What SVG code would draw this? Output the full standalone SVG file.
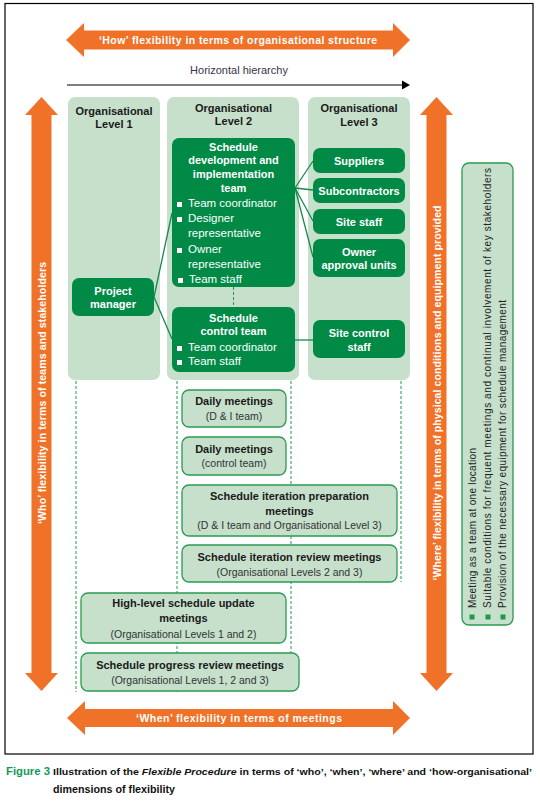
<svg xmlns="http://www.w3.org/2000/svg" width="540" height="803" viewBox="0 0 540 803">
<style>
.col{fill:#c6e0cc}
.dk{fill:#008a45}
.mt{fill:#c6e0cc;stroke:#2a9a50;stroke-width:1.3}
.orange{fill:#f07228}
.t{font-family:"Liberation Sans",Arial,sans-serif}
.ttl{font-family:"Liberation Sans",Arial,sans-serif;font-weight:bold;font-size:11px;fill:#1a1a1a;text-anchor:middle}
.wb{font-family:"Liberation Sans",Arial,sans-serif;font-weight:bold;font-size:11px;fill:#fff;text-anchor:middle}
.wr{font-family:"Liberation Sans",Arial,sans-serif;font-size:11.5px;fill:#fff}
.mb{font-family:"Liberation Sans",Arial,sans-serif;font-weight:bold;font-size:11px;fill:#1a1a1a;text-anchor:middle}
.ms{font-family:"Liberation Sans",Arial,sans-serif;font-size:10.5px;fill:#333;text-anchor:middle}
.ob{font-family:"Liberation Sans",Arial,sans-serif;font-weight:bold;font-size:10.5px;fill:#fff;text-anchor:middle}
.dash{stroke:#1e9a4a;stroke-width:1;stroke-dasharray:3 2;fill:none}
.con{stroke:#16884a;stroke-width:1.3;fill:none}
.wl{font-family:"Liberation Sans",Arial,sans-serif;font-size:10px;fill:#222}
</style>
<rect x="0" y="0" width="540" height="803" fill="#fff"/>
<rect x="5" y="3.5" width="528" height="750.5" fill="none" stroke="#000" stroke-width="1.2"/>

<!-- orange arrows -->
<g id="how-arrow">
<polygon class="orange" points="66,40 84,23 84,30.5 393,30.5 393,23 410,40 393,57 393,49.5 84,49.5 84,57"/>
<text class="ob" x="238" y="44" textLength="278">‘How’ flexibility in terms of organisational structure</text>
</g>
<g id="when-arrow">
<polygon class="orange" points="67,718 85,701 85,709 393,709 393,701 410,718 393,735 393,727 85,727 85,735"/>
<text class="ob" x="239" y="722" textLength="206">‘When’ flexibility in terms of meetings</text>
</g>
<g id="who-arrow">
<polygon class="orange" points="41.5,97 58,115 51.5,115 51.5,673 58,673 41.5,691 25,673 31.5,673 31.5,115 25,115"/>
<text class="ob" transform="translate(45.5,393) rotate(-90)" x="0" y="0" textLength="262">‘Who’ flexibility in terms of teams and stakeholders</text>
</g>
<g id="where-arrow">
<polygon class="orange" points="436.5,97 453,115 446.5,115 446.5,673 453,673 436.5,691 420,673 426.5,673 426.5,115 420,115"/>
<text class="ob" transform="translate(440.5,393) rotate(-90)" x="0" y="0" textLength="375">‘Where’ flexibility in terms of physical conditions and equipment provided</text>
</g>

<!-- horizontal hierarchy -->
<g id="hierarchy">
<text class="t" x="239" y="74" font-size="11" fill="#3a3348" text-anchor="middle">Horizontal hierarchy</text>
<line x1="67" y1="85" x2="403" y2="85" stroke="#000" stroke-width="1.2"/>
<polygon points="402,80.5 410,85 402,89.5" fill="#000"/>
</g>

<!-- columns -->
<g id="level1">
<rect class="col" x="68" y="97" width="92" height="283" rx="7"/>
<text class="ttl" x="114" y="115">Organisational</text>
<text class="ttl" x="114" y="128">Level 1</text>
</g>
<g id="level2">
<rect class="col" x="167" y="97" width="132" height="283" rx="7"/>
<text class="ttl" x="233.5" y="112">Organisational</text>
<text class="ttl" x="233.5" y="125">Level 2</text>
</g>
<g id="level3">
<rect class="col" x="308" y="97" width="102" height="283" rx="7"/>
<text class="ttl" x="359" y="112">Organisational</text>
<text class="ttl" x="359" y="126">Level 3</text>
</g>

<!-- connectors -->
<g id="connectors">
<line class="dash" x1="76" y1="381" x2="76" y2="692"/>
<line class="dash" x1="177" y1="381" x2="177" y2="692"/>
<line class="dash" x1="291" y1="381" x2="291" y2="653"/>
<line class="dash" x1="401" y1="381" x2="401" y2="582"/>
<line class="dash" x1="233.5" y1="287" x2="233.5" y2="307"/>
<line class="con" x1="154" y1="297" x2="172" y2="213"/>
<line class="con" x1="154" y1="297" x2="172" y2="339"/>
<line class="con" x1="295" y1="188" x2="313" y2="161"/>
<line class="con" x1="295" y1="188" x2="313" y2="190"/>
<line class="con" x1="295" y1="188" x2="313" y2="221"/>
<line class="con" x1="295" y1="188" x2="313" y2="257"/>
<line class="con" x1="295" y1="340" x2="313" y2="340"/>
</g>

<!-- dark green nodes -->
<g id="di-team">
<rect class="dk" x="172" y="138" width="123" height="149" rx="7"/>
<text class="wb" x="233.5" y="151">Schedule</text>
<text class="wb" x="233.5" y="164">development and</text>
<text class="wb" x="233.5" y="178">implementation</text>
<text class="wb" x="233.5" y="192">team</text>
<rect x="177" y="202" width="5" height="5" fill="#fff"/>
<text class="wr" x="188" y="207">Team coordinator</text>
<rect x="177" y="217" width="5" height="5" fill="#fff"/>
<text class="wr" x="188" y="222">Designer</text>
<text class="wr" x="188" y="237">representative</text>
<rect x="177" y="248" width="5" height="5" fill="#fff"/>
<text class="wr" x="188" y="253">Owner</text>
<text class="wr" x="188" y="268">representative</text>
<rect x="178" y="278" width="5" height="5" fill="#fff"/>
<text class="wr" x="189" y="283">Team staff</text>
</g>
<g id="project-manager">
<rect class="dk" x="72" y="278" width="82" height="38" rx="7"/>
<text class="wb" x="113" y="295">Project</text>
<text class="wb" x="113" y="308">manager</text>
</g>
<g id="control-team">
<rect class="dk" x="172" y="307" width="123" height="65" rx="7"/>
<text class="wb" x="233.5" y="322">Schedule</text>
<text class="wb" x="233.5" y="335">control team</text>
<rect x="177" y="346" width="5" height="5" fill="#fff"/>
<text class="wr" x="188" y="351">Team coordinator</text>
<rect x="177" y="360" width="5" height="5" fill="#fff"/>
<text class="wr" x="188" y="365">Team staff</text>
</g>
<g id="suppliers">
<rect class="dk" x="313" y="148" width="92" height="25" rx="7"/>
<text class="wb" x="359" y="165">Suppliers</text>
</g>
<g id="subcontractors">
<rect class="dk" x="313" y="178" width="92" height="25" rx="7"/>
<text class="wb" x="359" y="195">Subcontractors</text>
</g>
<g id="site-staff">
<rect class="dk" x="313" y="209" width="92" height="25" rx="7"/>
<text class="wb" x="359" y="226">Site staff</text>
</g>
<g id="owner-approval">
<rect class="dk" x="313" y="239" width="92" height="38" rx="7"/>
<text class="wb" x="359" y="256">Owner</text>
<text class="wb" x="359" y="269">approval units</text>
</g>
<g id="site-control">
<rect class="dk" x="313" y="320" width="92" height="38" rx="7"/>
<text class="wb" x="359" y="337">Site control</text>
<text class="wb" x="359" y="351">staff</text>
</g>

<!-- meetings -->
<g id="daily-di">
<rect class="mt" x="182" y="390" width="104" height="37" rx="7"/>
<text class="mb" x="234" y="405">Daily meetings</text>
<text class="ms" x="234" y="420">(D &amp; I team)</text>
</g>
<g id="daily-control">
<rect class="mt" x="182" y="437" width="104" height="38" rx="7"/>
<text class="mb" x="234" y="453">Daily meetings</text>
<text class="ms" x="234" y="467">(control team)</text>
</g>
<g id="iteration-prep">
<rect class="mt" x="182" y="485" width="215" height="51" rx="7"/>
<text class="mb" x="289.5" y="500">Schedule iteration preparation</text>
<text class="mb" x="289.5" y="514.5">meetings</text>
<text class="ms" x="289.5" y="529">(D &amp; I team and Organisational Level 3)</text>
</g>
<g id="iteration-review">
<rect class="mt" x="182" y="545" width="215" height="37" rx="7"/>
<text class="mb" x="289.5" y="560.5">Schedule iteration review meetings</text>
<text class="ms" x="289.5" y="575.5">(Organisational Levels 2 and 3)</text>
</g>
<g id="high-level">
<rect class="mt" x="81" y="593" width="205" height="50" rx="7"/>
<text class="mb" x="183.5" y="607">High-level schedule update</text>
<text class="mb" x="183.5" y="621.5">meetings</text>
<text class="ms" x="183.5" y="637.5">(Organisational Levels 1 and 2)</text>
</g>
<g id="progress-review">
<rect class="mt" x="81" y="653" width="218" height="38" rx="7"/>
<text class="mb" x="190" y="669">Schedule progress review meetings</text>
<text class="ms" x="190" y="683.5">(Organisational Levels 1, 2 and 3)</text>
</g>

<!-- where conditions box -->
<g id="where-box">
<rect class="mt" x="462" y="163" width="51" height="462" rx="7"/>
<rect x="469.5" y="614.5" width="5" height="5" fill="#1a9a4a"/>
<rect x="485.5" y="614.5" width="5" height="5" fill="#1a9a4a"/>
<rect x="500.5" y="614.5" width="5" height="5" fill="#1a9a4a"/>
<text class="wl" transform="translate(475.5,608) rotate(-90)" x="0" y="0" textLength="160">Meeting as a team at one location</text>
<text class="wl" transform="translate(491,608) rotate(-90)" x="0" y="0" textLength="440">Suitable conditions for frequent meetings and continual involvement of key stakeholders</text>
<text class="wl" transform="translate(506,608) rotate(-90)" x="0" y="0" textLength="308">Provision of the necessary equipment for schedule management</text>
</g>

<!-- caption -->
<g id="caption">
<text class="t" x="6" y="775" font-size="11" font-weight="bold" fill="#0f9a5a" textLength="44" lengthAdjust="spacingAndGlyphs">Figure 3</text>
<text class="t" x="53" y="775" font-size="9.6" font-weight="bold" fill="#111" textLength="479" lengthAdjust="spacingAndGlyphs">Illustration of the <tspan font-style="italic">Flexible Procedure</tspan> in terms of ‘who’, ‘when’, ‘where’ and ‘how-organisational’</text>
<text class="t" x="53" y="793" font-size="11" font-weight="bold" fill="#111" textLength="122" lengthAdjust="spacingAndGlyphs">dimensions of flexibility</text>
</g>
</svg>
